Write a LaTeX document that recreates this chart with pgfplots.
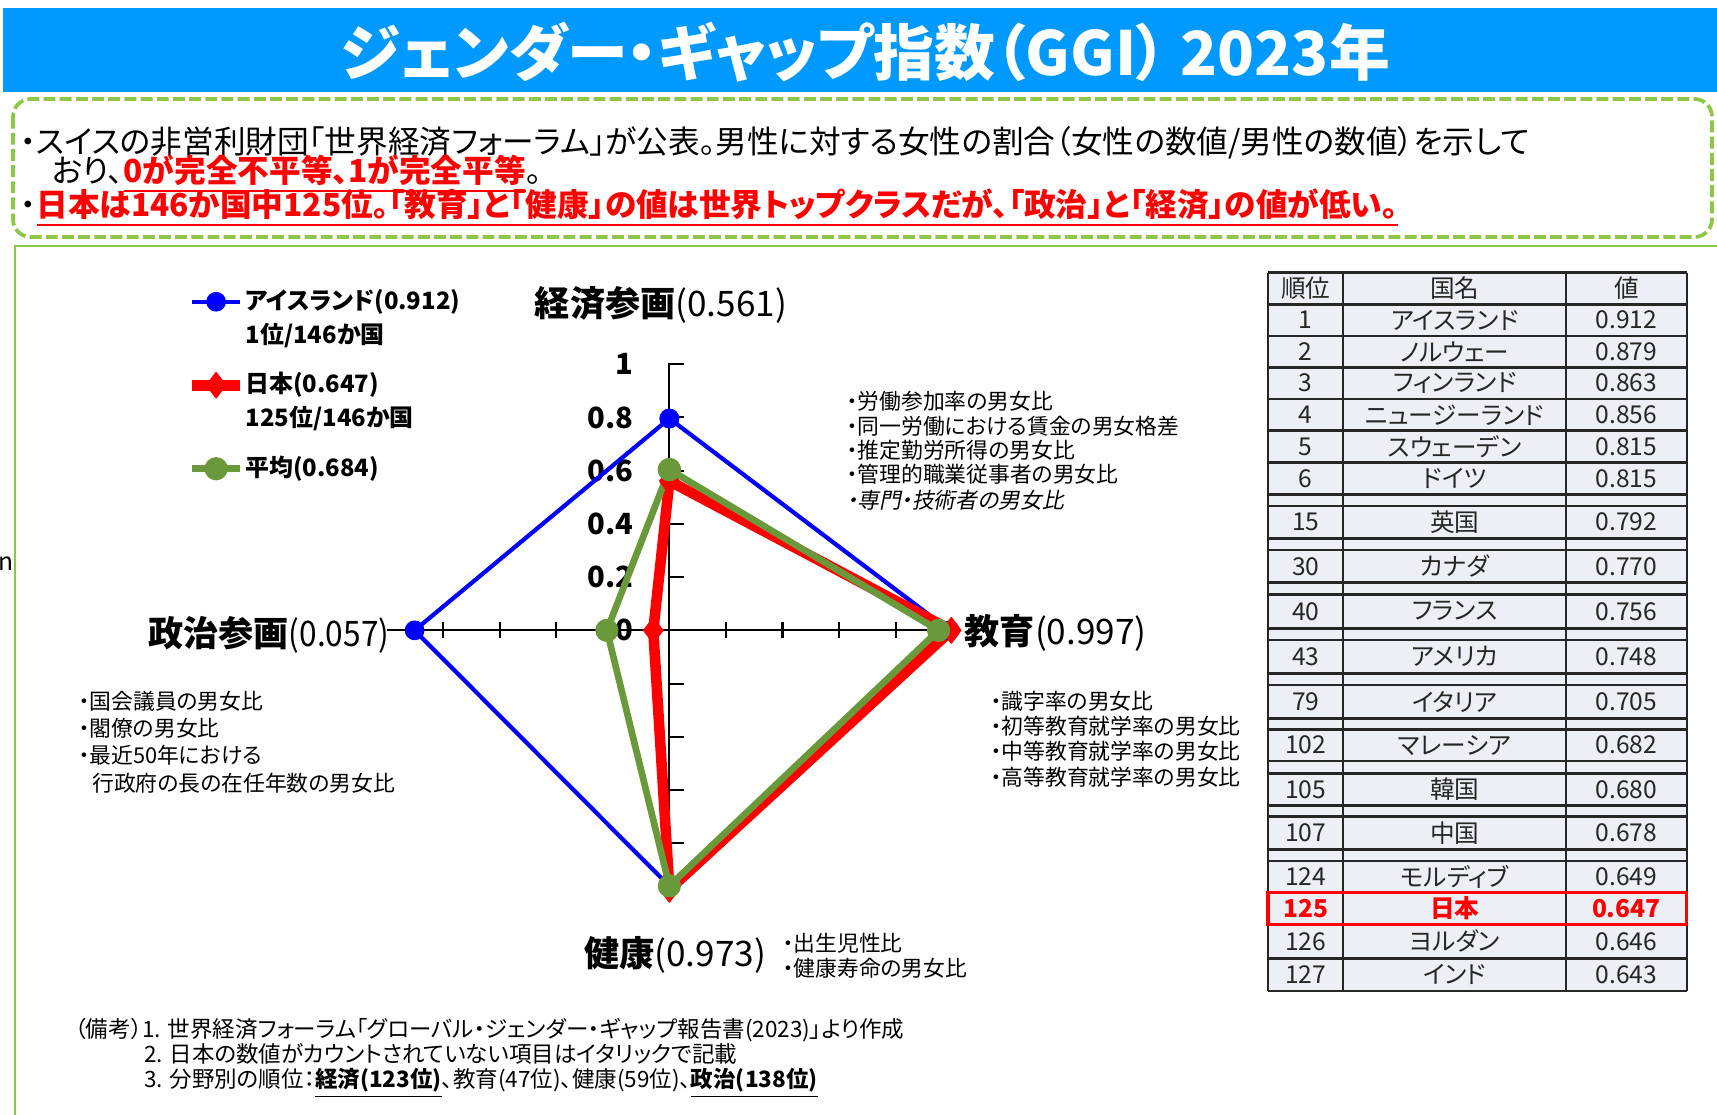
\documentclass[border=0pt]{standalone}
\usepackage{fontspec}
\usepackage{pgfplots}
\pgfplotsset{compat=1.18}
\setmainfont{Noto Sans CJK JP}[RawFeature=+palt]
\newfontfamily\jpit{Noto Sans CJK JP}[RawFeature=+palt, FakeSlant=0.2]
\definecolor{bannerblue}{RGB}{0,153,255}
\definecolor{lgreen}{RGB}{140,200,70}
\definecolor{avggreen}{RGB}{106,153,59}
\definecolor{tablefill}{RGB}{236,239,246}
\newcommand\fs[1]{\fontsize{#1}{#1}\selectfont}
\newcommand\lst[3]{\node[anchor=west, inner sep=0pt, font=\fs{6.2}] at (#1,#2) {#3};}

\begin{document}
\begin{tikzpicture}
\begin{scope}[x=0.01cm, y=-0.01cm]
\path[use as bounding box] (0,0) rectangle (1717,1115);
\fill[white] (0,0) rectangle (1717,1115);
% banner
\fill[bannerblue] (3,8) rectangle (1717,92);
\node[white, font=\fs{17.3}\bfseries] at (865,52) {ジェンダー・ギャップ指数（GGI） 2023年};
% dashed box with the summary
\draw[lgreen, line width=1.05pt, dash pattern=on 3.4pt off 1.2pt, rounded corners=5pt] (13,99) rectangle (1712,237);
\node[anchor=west, inner sep=0pt, font=\fs{9}] at (20,143) {・スイスの非営利財団「世界経済フォーラム」が公表。男性に対する女性の割合（女性の数値/男性の数値）を示して};
\node[anchor=west, inner sep=0pt, font=\fs{9}] at (20,174) {\hspace{1em}おり、\textcolor{red}{\underline{\textbf{0が完全不平等、1が完全平等}}}。};
\node[anchor=west, inner sep=0pt, font=\fs{9}] at (20,208) {・\textcolor{red}{\underline{\textbf{日本は146か国中125位。「教育」と「健康」の値は世界トップクラスだが、「政治」と「経済」の値が低い。}}}};
% lower panel border
\draw[lgreen, line width=0.7pt] (15,1120) -- (15,246) -- (1720,246);
\node[anchor=west, inner sep=0pt, font=\fs{7}] at (-2,564) {n};

% legend second lines
\node[anchor=west, inner sep=0pt, font=\fs{6.8}\bfseries] at (245,335) {1位/146か国};
\node[anchor=west, inner sep=0pt, font=\fs{6.8}\bfseries] at (245,418) {125位/146か国};

% radar labels
\node[font=\fs{10}, inner sep=0pt] at (661,305) {\textbf{経済参画}(0.561)};
\node[font=\fs{10}, inner sep=0pt, anchor=west] at (964,633) {\textbf{教育}(0.997)};
\node[font=\fs{10}, inner sep=0pt, anchor=east] at (390,635) {\textbf{政治参画}\scalebox{0.9}[1]{(0.057)}};
\node[font=\fs{10}, inner sep=0pt] at (675,955) {\textbf{健康}(0.973)};

% descriptions
\lst{846}{401.7}{・労働参加率の男女比}
\lst{846}{426}{・同一労働における賃金の男女格差}
\lst{846}{450}{・推定勤労所得の男女比}
\lst{846}{474}{・管理的職業従事者の男女比}
\lst{846}{500.7}{\jpit ・専門・技術者の男女比}
\lst{990}{701.7}{・識字率の男女比}
\lst{990}{726}{・初等教育就学率の男女比}
\lst{990}{751}{・中等教育就学率の男女比}
\lst{990}{777.7}{・高等教育就学率の男女比}
\lst{782}{943}{・出生児性比}
\lst{782}{968}{・健康寿命の男女比}
\lst{78}{701.7}{・国会議員の男女比}
\lst{78}{728}{・閣僚の男女比}
\lst{78}{755}{・最近50年における}
\lst{91.5}{783}{行政府の長の在任年数の男女比}

% ranking table
\fill[tablefill] (1268,272.7) rectangle (1686.7,991);
\foreach \yy in {272.7,304.3,336,367.3,399,430.7,462.3,494.3,506,538.3,550,582.7,594.3,628.3,640,673.3,685,718.3,729.3,761,773.3,805.7,816.7,849.3,861,892.3,924.3,958.3,991}
  \draw[black!85, line width=0.7pt] (1268,\yy) -- (1686.7,\yy);
\foreach \xx in {1268,1343.3,1566,1686.7}
  \draw[black!85, line width=0.6pt] (\xx,272.7) -- (\xx,991);
\begin{scope}[every node/.style={font=\fs{7}, inner sep=0pt, text=black!85}]
\node at (1305.7,288.5) {順位};
\node at (1454.7,288.5) {国名};
\node at (1626.3,288.5) {値};
\foreach \yc/\rk/\nm/\vl in {320.15/1/アイスランド/0.912, 351.65/2/ノルウェー/0.879, 383.15/3/フィンランド/0.863, 414.85/4/ニュージーランド/0.856, 446.5/5/スウェーデン/0.815, 478.3/6/ドイツ/0.815, 522.15/15/英国/0.792, 566.35/30/カナダ/0.770, 611.3/40/フランス/0.756, 656.65/43/アメリカ/0.748, 701.65/79/イタリア/0.705, 745.15/102/マレーシア/0.682, 789.5/105/韓国/0.680, 833/107/中国/0.678, 876.65/124/モルディブ/0.649, 941.3/126/ヨルダン/0.646, 974.65/127/インド/0.643}
{
  \node at (1305.7,\yc) {\rk};
  \node at (1454.7,\yc) {\nm};
  \node at (1626.3,\yc) {\vl};
}
\node[text=red, font=\fs{7}\bfseries] at (1305.7,908.3) {125};
\node[text=red, font=\fs{7}\bfseries] at (1454.7,908.3) {日本};
\node[text=red, font=\fs{7}\bfseries] at (1626.3,908.3) {0.647};
\end{scope}
\draw[red, line width=0.9pt] (1268,892.3) rectangle (1686.7,924.3);

% notes
\node[anchor=base west, inner sep=0pt, font=\fs{6.4}] at (74,1037) {（備考）1. 世界経済フォーラム「グローバル・ジェンダー・ギャップ報告書(2023)」より作成};
\node[anchor=base west, inner sep=0pt, font=\fs{6.4}] at (143.5,1062) {2. 日本の数値がカウントされていない項目はイタリックで記載};
\node[anchor=base west, inner sep=0pt, font=\fs{6.4}] at (143.5,1087) {3. 分野別の順位：\underline{\textbf{経済(123位)}}、教育(47位)、健康(59位)、\underline{\textbf{政治(138位)}}};
\end{scope}

\begin{axis}[
  at={(6.69cm,-6.30cm)}, anchor=origin,
  x=2.826cm, y=2.66cm,
  xmin=-1, xmax=1, ymin=-1, ymax=1, enlargelimits=false,
  axis lines=middle,
  axis line style={-, black, line width=0.6pt},
  clip=false,
  xtick={-0.8,-0.6,-0.4,-0.2,0.2,0.4,0.6,0.8},
  xticklabels={},
  ytick={-0.8,-0.6,-0.4,-0.2,0,0.2,0.4,0.6,0.8,1},
  yticklabels={,,,,0,0.2,0.4,0.6,0.8,1},
  hide obscured x ticks=false, hide obscured y ticks=false,
  major tick length=0.16cm, tick align=center,
  tick style={black, line width=0.6pt},
  ytick style={xshift=0.07cm},
  yticklabel style={font=\fs{8.3}\bfseries, anchor=east, inner sep=0pt, xshift=-0.27cm},
  legend style={at={(axis cs:-1.709,0.921)}, anchor=west, draw=none, fill=none,
    inner sep=0pt, row sep=0.583cm, font=\fs{6.8}\bfseries,
    nodes={inner sep=0pt, text height=0.2cm, text depth=0.05cm},
    /tikz/every even column/.append style={column sep=0.03cm}},
  legend cell align=left,
  legend image code/.code={\draw[mark repeat=2, mark phase=2, #1] plot coordinates {(0cm,0cm) (0.24cm,0cm) (0.48cm,0cm)};},
]
% Iceland
\addplot[blue, line width=1.2pt, line join=round, mark=*, mark size=2.6pt, mark options={solid, fill=blue, line width=0.4pt}]
  coordinates {(0,0.796) (0.991,0) (0,-0.961) (-0.901,0) (0,0.796)};
\addlegendentry{アイスランド(0.912)}
% Japan
\addplot[red, line width=3pt, line join=round, mark=diamond*, mark size=3.6pt, mark options={solid, fill=red, line width=0.4pt}]
  coordinates {(0,0.561) (0.997,0) (0,-0.973) (-0.057,0) (0,0.561)};
\addlegendentry{日本(0.647)}
% average
\addplot[avggreen, line width=1.9pt, line join=round, mark=*, mark size=3.1pt, mark options={solid, fill=avggreen, line width=0.4pt}]
  coordinates {(0,0.604) (0.952,0) (0,-0.960) (-0.221,0) (0,0.604)};
\addlegendentry{平均(0.684)}
\end{axis}
\end{tikzpicture}
\end{document}
